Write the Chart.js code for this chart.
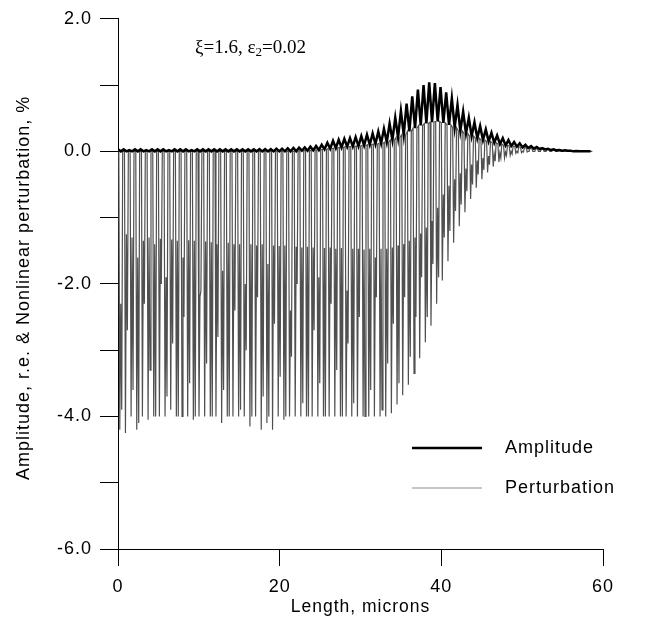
<!DOCTYPE html>
<html>
<head>
<meta charset="utf-8">
<title>Amplitude and perturbation</title>
<script src="https://cdn.jsdelivr.net/npm/chart.js@4.4.0/dist/chart.umd.min.js"></script>
<style>
  html, body { margin: 0; padding: 0; background: #fff; }
  #wrap { width: 668px; height: 621px; }
</style>
</head>
<body>
<div id="wrap"><canvas id="myChart" width="668" height="621"></canvas></div>
<script>
// one oscillation period per entry (microns)
var periodX = [
  0.0, 0.7, 1.4, 2.1, 2.8, 3.5, 4.2, 4.9, 5.6, 6.3,
  7.0, 7.7, 8.4, 9.1, 9.8, 10.5, 11.2, 11.9, 12.6, 13.3,
  14.0, 14.7, 15.4, 16.1, 16.8, 17.5, 18.2, 18.9, 19.6, 20.3,
  21.0, 21.7, 22.4, 23.1, 23.8, 24.5, 25.2, 25.9, 26.6, 27.3,
  28.0, 28.7, 29.4, 30.1, 30.8, 31.5, 32.2, 32.9, 33.6, 34.3,
  35.0, 35.7, 36.4, 37.1, 37.8, 38.5, 39.2, 39.9, 40.6, 41.3,
  42.0, 42.7, 43.4, 44.1, 44.8, 45.5, 46.2, 46.9, 47.6, 48.3,
  49.0, 49.7, 50.4, 51.1, 51.8, 52.5, 53.2, 53.9, 54.6, 55.3,
  56.0, 56.7, 57.4, 58.1
];
// amplitude crests and troughs, %
var ampCrest = [
  0.03, 0.03, 0.02, 0.03, 0.03, 0.02, 0.03, 0.03, 0.03, 0.02,
  0.03, 0.03, 0.03, 0.02, 0.03, 0.03, 0.03, 0.03, 0.03, 0.03,
  0.03, 0.03, 0.03, 0.03, 0.03, 0.035, 0.035, 0.035, 0.04, 0.04,
  0.045, 0.05, 0.055, 0.06, 0.07, 0.08, 0.10, 0.13, 0.16, 0.175,
  0.19, 0.20, 0.215, 0.23, 0.25, 0.27, 0.30, 0.34, 0.42, 0.51,
  0.61, 0.72, 0.83, 0.93, 1.00, 1.04, 1.03, 0.97, 0.89, 0.80,
  0.70, 0.60, 0.51, 0.44, 0.38, 0.33, 0.28, 0.24, 0.20, 0.17,
  0.14, 0.12, 0.10, 0.08, 0.065, 0.05, 0.04, 0.03, 0.02, 0.015,
  0.01, 0.005, 0.0, 0.0
];
var ampTrough = [
  0, 0, 0, 0, 0, 0, 0, 0, 0, 0,
  0, 0, 0, 0, 0, 0, 0, 0, 0, 0,
  0, 0, 0, 0, 0, 0, 0, 0, 0, 0,
  0.0, 0.0, 0.01, 0.01, 0.015, 0.02, 0.03, 0.04, 0.05, 0.06,
  0.07, 0.075, 0.08, 0.09, 0.10, 0.11, 0.12, 0.14, 0.17, 0.21,
  0.25, 0.30, 0.35, 0.39, 0.42, 0.44, 0.45, 0.43, 0.40, 0.36,
  0.31, 0.27, 0.23, 0.20, 0.17, 0.15, 0.13, 0.11, 0.09, 0.08,
  0.07, 0.06, 0.05, 0.04, 0.035, 0.03, 0.02, 0.015, 0.01, 0.01,
  0.0, 0.0, 0.0, 0.0
];
// perturbation: two dips per period with a turn in between, %
var pertDeepA = [
  -4.20, -4.25, -4.00, -4.20, -4.00, -4.05, -4.00, -4.00, -4.00, -3.90,
  -4.00, -4.00, -4.00, -4.05, -4.00, -4.00, -4.00, -4.00, -4.10, -4.00,
  -4.00, -4.00, -4.00, -4.15, -4.00, -4.20, -4.10, -4.20, -4.00, -4.05,
  -4.00, -4.00, -4.00, -4.00, -4.00, -4.00, -4.00, -4.00, -4.00, -4.00,
  -4.00, -4.00, -4.00, -4.00, -4.00, -4.00, -4.00, -4.00, -3.95, -3.82,
  -3.68, -3.52, -3.35, -3.12, -2.88, -2.63, -2.30, -1.95, -1.66, -1.38,
  -1.13, -0.92, -0.72, -0.55, -0.42, -0.32, -0.23, -0.16, -0.10, -0.06,
  -0.03, -0.02, -0.01, 0, 0, 0, 0, 0, 0, 0,
  0, 0, 0, 0
];
var pertMid = [
  -2.30, -1.25, -1.30, -1.60, -1.35, -1.30, -1.40, -1.32, -1.90, -1.33,
  -1.35, -1.60, -1.34, -1.35, -2.20, -1.36, -1.37, -1.40, -1.80, -1.38,
  -1.40, -1.40, -2.00, -1.40, -1.42, -1.40, -1.70, -1.42, -1.43, -1.42,
  -2.40, -1.44, -1.45, -1.44, -1.45, -1.90, -1.46, -1.45, -1.47, -1.46,
  -2.10, -1.47, -1.47, -1.48, -1.47, -1.60, -1.47, -1.47, -1.45, -1.42,
  -1.40, -1.35, -1.30, -1.24, -1.15, -1.05, -0.85, -0.65, -0.52, -0.42,
  -0.33, -0.26, -0.20, -0.14, -0.10, -0.07, -0.04, -0.02, -0.01, 0,
  0, 0, 0, 0, 0, 0, 0, 0, 0, 0,
  0, 0, 0, 0
];
var pertDeepB = [
  -3.90, -2.70, -3.60, -4.10, -2.30, -3.30, -4.00, -2.00, -3.70, -2.90,
  -4.00, -2.50, -3.50, -4.00, -2.10, -3.20, -4.00, -2.80, -3.60, -4.00,
  -2.40, -3.90, -3.00, -4.00, -2.20, -3.70, -4.00, -2.60, -3.40, -4.00,
  -3.10, -2.00, -3.80, -4.00, -2.70, -3.50, -4.00, -2.30, -3.30, -4.00,
  -2.90, -3.80, -2.50, -4.00, -3.60, -2.20, -3.90, -3.20, -2.60, -3.50,
  -2.20, -3.10, -2.50, -1.90, -2.50, -1.70, -1.90, -1.30, -1.20, -0.90,
  -0.80, -0.60, -0.50, -0.35, -0.28, -0.20, -0.15, -0.10, -0.06, -0.04,
  -0.02, -0.01, 0, 0, 0, 0, 0, 0, 0, 0,
  0, 0, 0, 0
];
var xTicks = [0, 20, 40, 60];
var yMin = -6, yMax = 2;

var amplitudePts = [];
var perturbationPts = [];
periodX.forEach(function (x, k) {
  amplitudePts.push({x: x, y: ampCrest[k]});
  amplitudePts.push({x: x + 0.35, y: ampTrough[k]});
  // each dip leaves from and returns to the amplitude trough level
  perturbationPts.push({x: x + 0.1, y: ampTrough[k]});
  perturbationPts.push({x: x + 0.22, y: pertDeepA[k]});
  perturbationPts.push({x: x + 0.34, y: pertMid[k]});
  perturbationPts.push({x: x + 0.46, y: pertDeepB[k]});
  perturbationPts.push({x: x + 0.58, y: ampTrough[k]});
});

var SANS = '"Liberation Sans", Arial, Helvetica, sans-serif';
var SERIF = '"Liberation Serif", "Times New Roman", serif';
var Y_TITLE = 'Amplitude, r.e. & Nonlinear perturbation, %';
Chart.defaults.font.family = SANS;
Chart.defaults.color = '#000';

// the sans text of the figure is slightly spaced out
var spacing = {
  id: 'spacing',
  beforeLayout: function (chart) { chart.ctx.letterSpacing = '1px'; },
  beforeDraw: function (chart) { chart.ctx.letterSpacing = '1px'; }
};

// rotated y title, legend inside the plot and parameter note
var extras = {
  id: 'extras',
  afterDraw: function (chart) {
    var ctx = chart.ctx;
    var area = chart.chartArea;
    ctx.save();
    ctx.letterSpacing = '1px';
    ctx.fillStyle = '#000';
    ctx.font = '18px ' + SANS;
    ctx.textAlign = 'center';
    ctx.textBaseline = 'middle';
    ctx.translate(24, (area.top + area.bottom) / 2 + 4);
    ctx.rotate(-Math.PI / 2);
    ctx.fillText(Y_TITLE, 0, 0);
    ctx.restore();

    ctx.save();
    ctx.letterSpacing = '1px';
    chart.data.datasets.forEach(function (ds, i) {
      var y = 448 + i * 40;
      ctx.strokeStyle = ds.legendColor || ds.borderColor;
      ctx.lineWidth = ds.legendWidth || ds.borderWidth;
      ctx.beginPath();
      ctx.moveTo(412, y);
      ctx.lineTo(482, y);
      ctx.stroke();
      ctx.fillStyle = '#000';
      ctx.font = '18px ' + SANS;
      ctx.textBaseline = 'middle';
      ctx.fillText(ds.label, 505, y);
    });
    ctx.restore();

    ctx.save();
    ctx.letterSpacing = '0px';
    ctx.fillStyle = '#000';
    ctx.textBaseline = 'alphabetic';
    var x = 195, y0 = 53;
    ctx.font = '19px ' + SERIF;
    ctx.fillText('\u03BE=1.6, \u03B5', x, y0);
    x += ctx.measureText('\u03BE=1.6, \u03B5').width;
    ctx.font = '13px ' + SERIF;
    ctx.fillText('2', x, y0 + 3);
    x += ctx.measureText('2').width;
    ctx.font = '19px ' + SERIF;
    ctx.fillText('=0.02', x, y0);
    ctx.restore();
  }
};

var ctx = document.getElementById('myChart').getContext('2d');
var myChart = new Chart(ctx, {
  type: 'line',
  data: {
    datasets: [{
      label: 'Amplitude',
      data: amplitudePts,
      borderColor: '#000000',
      borderWidth: 2.5,
      pointRadius: 0,
      tension: 0,
      fill: false
    }, {
      label: 'Perturbation',
      data: perturbationPts,
      borderColor: '#505050',
      legendColor: '#8c8c8c',
      legendWidth: 1,
      borderWidth: 1.2,
      pointRadius: 0,
      tension: 0,
      fill: false
    }]
  },
  options: {
    responsive: false,
    animation: false,
    events: [],
    layout: { padding: { top: 16, right: 65, left: 0, bottom: 0 } },
    plugins: {
      legend: { display: false },
      tooltip: { enabled: false }
    },
    scales: {
      x: {
        type: 'linear',
        min: xTicks[0],
        max: xTicks[xTicks.length - 1],
        afterBuildTicks: function (s) { s.ticks = xTicks.map(function (v) { return {value: v}; }); },
        afterFit: function (s) { s.height = 72; },
        ticks: { font: { size: 18 }, padding: 10, maxRotation: 0, color: '#000' },
        grid: { drawOnChartArea: false, tickLength: 17, color: '#000' },
        border: { display: true, color: '#000', width: 1 },
        title: { display: true, text: 'Length, microns', font: { size: 17.5 }, padding: { top: 0, bottom: 3 }, color: '#000' }
      },
      y: {
        min: yMin,
        max: yMax,
        afterFit: function (s) { s.width = 118; },
        ticks: {
          stepSize: 1,
          autoSkip: false,
          font: { size: 18 },
          padding: 8,
          color: '#000',
          callback: function (v) { return v % 2 === 0 ? v.toFixed(1) : ''; }
        },
        grid: { drawOnChartArea: false, tickLength: 18, color: '#000' },
        border: { display: true, color: '#000', width: 1 },
        title: { display: false }
      }
    }
  },
  plugins: [spacing, extras]
});
</script>
</body>
</html>
